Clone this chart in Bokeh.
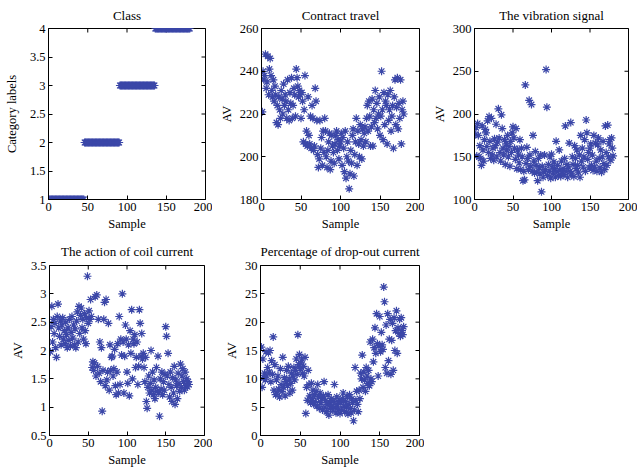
import math
from bokeh.plotting import figure
from bokeh.layouts import column, row
from bokeh.models import FixedTicker
from bokeh.embed import file_html
from bokeh.resources import INLINE

# ---------------- data ----------------
class_values = [1, 2, 3, 4]
class_counts = [45, 45, 45, 45]
class_labels = []
for v, c in zip(class_values, class_counts):
    class_labels += [v] * c
samples = list(range(1, len(class_labels) + 1))

contract_travel = [
    221, 240, 236, 238, 248, 232, 235, 247, 229, 241,
    246, 238, 231, 228, 236, 226, 233, 229, 216, 224,
    215, 228, 222, 218, 231, 227, 220, 234, 224, 229,
    226, 218, 236, 222, 217, 230, 225, 237, 218, 224,
    232, 229, 219, 241, 237, 233, 228, 231, 229, 218,
    230, 226, 207, 222, 238, 206, 212, 205, 228, 210,
    206, 219, 204, 224, 218, 203, 205, 232, 226, 217,
    201, 195, 199, 217, 204, 209, 196, 212, 202, 218,
    212, 200, 195, 203, 207, 211, 194, 198, 210, 205,
    202, 197, 206, 210, 212, 203, 208, 199, 205, 207,
    211, 196, 209, 204, 193, 212, 190, 200, 207, 198,
    185, 192, 203, 197, 210, 213, 191, 201, 207, 218,
    196, 212, 206, 200, 215, 208, 199, 213, 205, 211,
    214, 207, 218, 224, 212, 226, 219, 205, 214, 227,
    205, 222, 216, 231, 218, 225, 213, 220, 228, 210,
    219, 240, 222, 208, 230, 215, 226, 224, 206, 229,
    217, 222, 231, 212, 219, 224, 204, 228, 236, 215,
    223, 237, 213, 225, 218, 236, 206, 222, 226, 220,
]

vibration_signal = [
    176, 184, 151, 189, 175, 150, 163, 148, 140, 186,
    158, 145, 170, 182, 178, 162, 192, 155, 197, 168,
    148, 195, 152, 160, 146, 171, 163, 188, 150, 167,
    206, 172, 155, 145, 199, 183, 160, 152, 170, 141,
    165, 158, 175, 150, 162, 139, 168, 155, 178, 185,
    172, 160, 147, 183, 136, 158, 152, 143, 170, 135,
    160, 150, 122, 133, 123, 234, 142, 161, 148, 135,
    216, 152, 139, 211, 133, 175, 145, 131, 156, 140,
    132, 122, 148, 137, 130, 152, 109, 139, 126, 132,
    152, 135, 252, 208, 128, 141, 133, 150, 125, 153,
    138, 131, 144, 136, 126, 168, 133, 140, 128, 158,
    134, 127, 145, 131, 136, 129, 148, 186, 133, 141,
    126, 138, 166, 133, 190, 130, 150, 141, 127, 163,
    148, 136, 158, 140, 132, 152, 126, 175, 145, 160,
    138, 150, 170, 133, 193, 178, 147, 155, 137, 160,
    165, 140, 152, 134, 175, 138, 166, 145, 133, 164,
    172, 148, 137, 158, 132, 150, 168, 142, 135, 186,
    155, 140, 187, 150, 165, 170, 146, 172, 160, 151,
]

coil_current = [
    1.98, 2.42, 2.78, 2.15, 2.55, 2.30, 2.48, 2.05, 1.88, 2.60,
    2.82, 2.40, 2.25, 2.52, 2.10, 2.45, 2.58, 2.20, 2.35, 2.12,
    2.50, 2.28, 2.05, 2.40, 2.18, 2.55, 2.08, 2.32, 2.60, 2.22,
    2.45, 2.10, 2.38, 2.05, 2.52, 2.68, 2.15, 2.78, 2.30, 2.62,
    2.75, 2.40, 2.55, 2.20, 2.65, 2.35, 2.12, 2.58, 3.31, 2.48,
    2.70, 2.55, 2.90, 2.60, 1.70, 1.80, 1.65, 1.78, 2.95, 1.55,
    2.98, 1.72, 2.55, 1.60, 2.15, 1.45, 2.05, 0.93, 1.65, 2.55,
    2.85, 1.38, 2.90, 1.48, 1.62, 2.48, 1.30, 2.10, 1.65, 1.88,
    1.90, 1.55, 1.68, 2.02, 1.38, 1.22, 1.62, 2.12, 1.25, 2.60,
    1.40, 2.20, 1.92, 3.00, 2.15, 1.25, 1.90, 2.45, 2.20, 1.62,
    1.42, 2.10, 1.20, 2.35, 1.95, 2.72, 1.50, 2.20, 2.12, 2.28,
    1.70, 1.88, 2.15, 1.40, 1.72, 2.72, 2.48, 1.90, 2.30, 1.85,
    1.95, 1.70, 1.45, 1.88, 1.10, 0.98, 1.35, 1.55, 1.25, 1.42,
    2.00, 1.30, 1.62, 1.22, 1.48, 1.15, 1.35, 1.70, 1.28, 1.90,
    1.25, 0.84, 1.50, 1.32, 1.62, 1.22, 1.45, 1.30, 1.58, 2.42,
    2.25, 1.55, 1.95, 1.40, 1.18, 1.62, 1.35, 1.10, 1.52, 1.25,
    1.72, 1.05, 1.48, 1.38, 1.15, 1.60, 1.42, 1.28, 1.76, 1.35,
    1.55, 1.68, 1.45, 1.30, 1.62, 1.38, 1.50, 1.36, 1.45, 1.40,
]

dropout_current = [
    15.6, 8.5, 13.5, 10.2, 11.0, 9.8, 14.8, 10.5, 12.0, 14.6,
    11.2, 15.0, 9.5, 13.2, 10.8, 17.4, 8.0, 12.5, 7.2, 9.8,
    7.5, 10.5, 8.2, 6.8, 11.8, 9.0, 7.8, 13.8, 8.5, 10.2,
    7.0, 9.5, 11.5, 8.8, 12.2, 10.0, 7.5, 9.2, 11.0, 8.0,
    10.5, 12.0, 9.8, 11.5, 13.5, 10.8, 17.8, 12.5, 14.3, 11.8,
    12.8, 13.5, 11.0, 12.2, 10.5, 13.8, 3.9, 8.5, 6.2, 11.5,
    9.0, 7.0, 5.8, 9.2, 6.5, 8.0, 5.5, 7.2, 6.0, 7.8,
    5.2, 9.0, 6.8, 4.8, 7.5, 5.8, 6.5, 4.5, 7.0, 9.5,
    5.0, 6.2, 4.2, 5.5, 7.2, 3.6, 5.8, 4.8, 6.5, 5.2,
    4.5, 6.0, 9.0, 5.0, 4.0, 6.8, 5.5, 4.6, 6.2, 3.9,
    5.8, 4.5, 6.5, 7.5, 5.2, 4.2, 6.0, 5.0, 6.8, 3.8,
    5.5, 7.2, 4.8, 4.0, 6.5, 5.8, 2.6, 4.5, 12.0, 6.2,
    7.8, 5.5, 4.2, 8.0, 6.5, 11.0, 10.0, 14.2, 8.5, 11.2,
    9.8, 7.8, 12.0, 10.5, 9.2, 11.5, 8.8, 16.5, 10.0, 9.5,
    17.0, 13.0, 15.5, 19.0, 14.5, 21.5, 16.2, 10.5, 15.8, 21.0,
    14.8, 18.2, 16.0, 15.2, 26.2, 23.6, 12.0, 19.5, 11.0, 21.5,
    13.2, 17.0, 20.5, 10.8, 16.8, 19.8, 11.5, 20.8, 15.0, 18.5,
    22.0, 14.5, 19.0, 18.0, 20.5, 17.5, 20.8, 18.5, 17.8, 19.2,
]

x_ticks = [0, 50, 100, 150, 200]
class_ticks = [1, 1.5, 2, 2.5, 3, 3.5, 4]
ct_ticks = [180, 200, 220, 240, 260]
vib_ticks = [100, 150, 200, 250, 300]
coil_ticks = [0.5, 1, 1.5, 2, 2.5, 3, 3.5]
drop_ticks = [0, 5, 10, 15, 20, 25, 30]

COLOR = "#3b47a8"
FONT = "Liberation Serif"


def fmt(v):
    return "%g" % v


def make(title, ylab, ys, yr, yticks, left, fw, right, top, fh, bottom,
         ylab_standoff=3, title_standoff=8):
    p = figure(frame_width=fw, frame_height=fh,
               min_border_left=left, min_border_right=right,
               min_border_top=top, min_border_bottom=bottom,
               x_range=(0, 200), y_range=yr, title=title,
               toolbar_location=None, output_backend="svg")
    p.title.text_font = FONT
    p.title.text_font_size = "13px"
    p.title.text_font_style = "normal"
    p.title.text_color = "black"
    p.title.align = "center"
    p.title.standoff = title_standoff
    p.grid.visible = False
    p.outline_line_color = "black"
    p.outline_line_width = 1
    p.background_fill_color = "white"
    p.border_fill_color = "white"

    for ax, ticks in ((p.xaxis[0], x_ticks), (p.yaxis[0], yticks)):
        ax.ticker = FixedTicker(ticks=ticks)
        ax.major_label_overrides = {float(t): fmt(t) for t in ticks}
        ax.major_label_text_font = FONT
        ax.major_label_text_font_size = "12.5px"
        ax.major_label_text_color = "black"
        ax.axis_label_text_font = FONT
        ax.axis_label_text_font_size = "12.5px"
        ax.axis_label_text_font_style = "normal"
        ax.axis_label_text_color = "black"
        ax.major_tick_in = 4
        ax.major_tick_out = 0
        ax.minor_tick_line_color = None
        ax.axis_line_color = "black"
        ax.major_tick_line_color = "black"
        ax.major_label_standoff = 3
        ax.axis_label_standoff = 3
    p.yaxis[0].axis_label_standoff = ylab_standoff
    p.xaxis.axis_label = "Sample"
    p.yaxis.axis_label = ylab

    # mirrored inward ticks on the top and right edges (box style);
    # dash markers centred on the frame edge, clipped to the frame
    top_y = [yr[1]] * len(x_ticks)
    p.scatter(x_ticks, top_y, marker="dash", size=8, angle=math.pi / 2,
              line_color="black", line_width=1)
    right_x = [200] * len(yticks)
    p.scatter(right_x, yticks, marker="dash", size=8,
              line_color="black", line_width=1)

    p.scatter(samples, ys, marker="asterisk", size=8, line_color=COLOR,
              line_width=1.2)
    return p


p1 = make("Class", "Category labels", class_labels, (1, 4), class_ticks,
          48, 157, 7, 28, 171, 33, ylab_standoff=8, title_standoff=11)
p2 = make("Contract travel", "AV", contract_travel, (180, 260), ct_ticks,
          49, 158, 5, 28, 171, 33, title_standoff=11)
p3 = make("The vibration signal", "AV", vibration_signal, (100, 300), vib_ticks,
          50, 154, 9, 28, 171, 33, title_standoff=11)
p4 = make("The action of coil current", "AV", coil_current, (0.5, 3.5), coil_ticks,
          49, 155, 8, 32, 170, 35, title_standoff=13)
p5 = make("Percentage of drop-out current", "AV", dropout_current, (0, 30), drop_ticks,
          48, 159, 5, 32, 170, 35, title_standoff=13)

layout = column(row(p1, p2, p3, spacing=0), row(p4, p5, spacing=0), spacing=0)

with open("out.html", "w") as f:
    f.write(file_html(layout, INLINE))
